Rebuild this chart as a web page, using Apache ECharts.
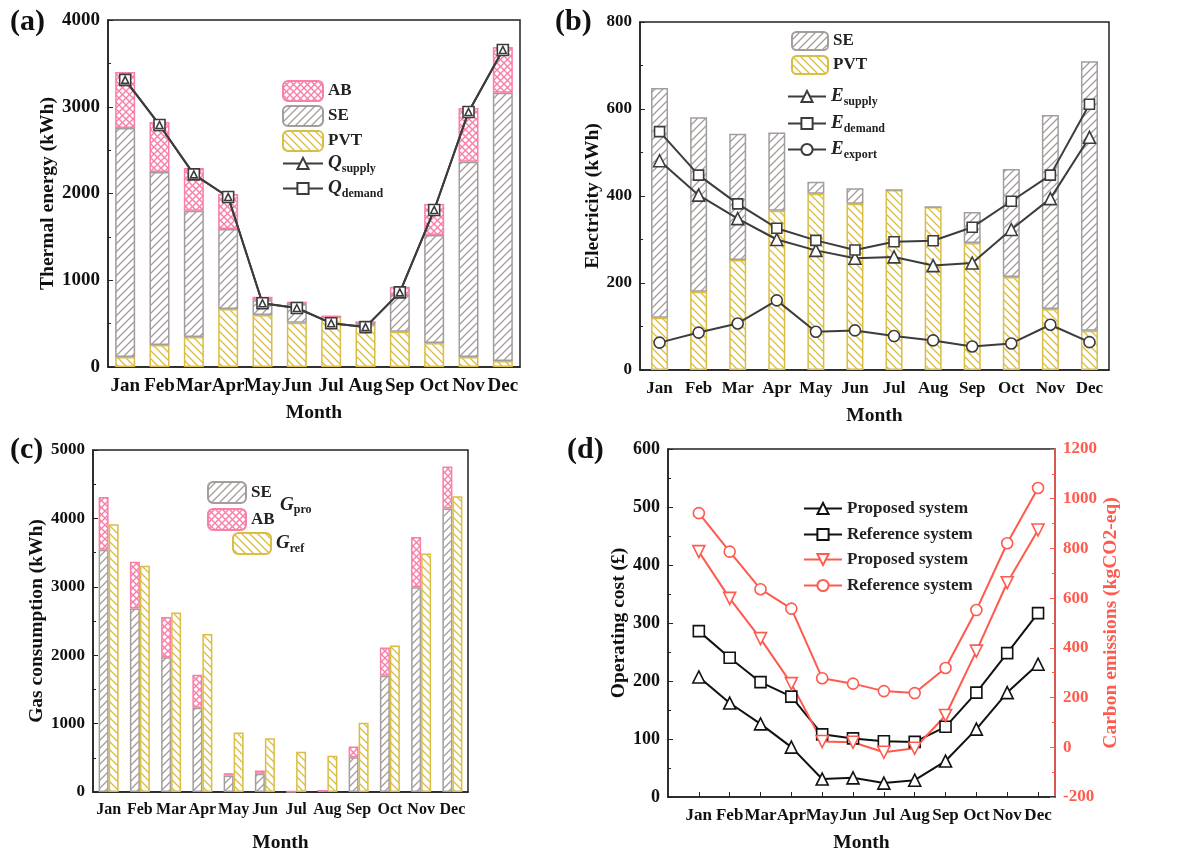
<!DOCTYPE html>
<html><head><meta charset="utf-8">
<script src="https://cdn.jsdelivr.net/npm/echarts@6/dist/echarts.min.js"></script>
<style>html,body{margin:0;padding:0;background:#fff}#c{width:1183px;height:854px}</style>
</head><body><div id="c"></div>
<script>
const months = ['Jan','Feb','Mar','Apr','May','Jun','Jul','Aug','Sep','Oct','Nov','Dec'];
// (a) Thermal energy (kWh), stacked segments
const aPVT = [115,254,346,669,600,510,580,484,407,277,115,69];
const aSE  = [2640,1994,1454,921,170,216,0,36,423,1245,2250,3091];
const aAB  = [645,576,494,404,40,27,12,0,96,357,620,530];
const aQsupply = [3310,2790,2220,1960,735,680,505,460,860,1810,2940,3655];
const aQdemand = [3310,2790,2220,1960,735,680,505,460,860,1810,2940,3655];
// (b) Electricity (kWh)
const bPVT = [120,180,253,366,405,382,414,375,292,214,140,90];
const bSE  = [528,401,290,180,28,36,0,0,71,248,446,620];
const bEsupply = [481,402,348,300,275,257,260,240,246,323,394,535];
const bEdemand = [548,448,382,326,298,276,295,297,328,388,448,611];
const bEexport = [63,86,107,160,88,91,78,68,54,61,104,64];
// (c) Gas consumption (kWh)
const cSE  = [3541,2681,1971,1232,241,266,0,20,507,1700,2995,4145];
const cAB  = [773,686,589,483,34,48,15,0,160,411,734,613];
const cRef = [3913,3309,2623,2309,870,787,589,531,1014,2140,3488,4324];
// (d) Operating cost (£) and carbon emissions (kgCO2-eq)
const dCostPro = [207,162,126,86,31,33,24,29,62,117,180,229];
const dCostRef = [286,240,198,173,108,101,96,95,121,180,248,317];
const dCO2Pro  = [787,599,437,256,23,20,-20,-4,128,387,662,874];
const dCO2Ref  = [942,787,636,558,278,256,226,218,319,552,821,1043];

const FONT = 'Liberation Serif';
const YEL = '#d9bd45', GRY = '#a39d9b', PNK = '#f97ea8', DK = '#3c3c3c', RED = '#ff5a4e';

function pattern(color, type, s, lw) {
  const c = document.createElement('canvas'); c.width = c.height = s;
  const g = c.getContext('2d');
  g.fillStyle = '#fff'; g.fillRect(0,0,s,s);
  g.strokeStyle = color; g.lineWidth = lw;
  const fwd = () => { g.beginPath(); g.moveTo(0,s); g.lineTo(s,0); g.moveTo(-s/2,s/2); g.lineTo(s/2,-s/2); g.moveTo(s/2,1.5*s); g.lineTo(1.5*s,s/2); g.stroke(); };
  const back = () => { g.beginPath(); g.moveTo(0,0); g.lineTo(s,s); g.moveTo(-s/2,s/2); g.lineTo(s/2,1.5*s); g.moveTo(s/2,-s/2); g.lineTo(1.5*s,s/2); g.stroke(); };
  if (type === 'f') fwd(); else if (type === 'b') back(); else { fwd(); back(); }
  return {image: c, repeat: 'repeat'};
}
const pPVT = pattern(YEL, 'b', 8, 1.3);
const pSE = pattern(GRY, 'f', 8, 1.3);
const pAB = pattern(PNK, 'x', 7, 1.4);

const labelMap = {
  aAB:'AB', aSE:'SE', aPVT:'PVT', aQs:'{i|Q}{s|supply}', aQd:'{i|Q}{s|demand}',
  bSE:'SE', bPVT:'PVT', bEs:'{i|E}{s|supply}', bEd:'{i|E}{s|demand}', bEe:'{i|E}{s|export}',
  cSE:'SE', cAB:'AB', cRef:'{i|G}{s|ref}',
  dCP:'Proposed system', dCR:'Reference system', dEP:'Proposed system', dER:'Reference system'
};
const legText = {
  fontFamily: FONT, fontWeight: 'bold', fontSize: 17, color: '#222',
  rich: {
    i: {fontFamily: FONT, fontStyle: 'italic', fontWeight: 'bold', fontSize: 19, color: '#222'},
    s: {fontFamily: FONT, fontWeight: 'bold', fontSize: 12, color: '#222', padding: [10,0,0,0]}
  }
};
function leg(data, left, top, iw, ih, gap) {
  return {data, left, top, orient: 'vertical', itemWidth: iw, itemHeight: ih, itemGap: gap,
    formatter: n => labelMap[n], textStyle: legText, selectedMode: false, padding: 0};
}

const nameTS = {fontFamily: FONT, fontWeight: 'bold', fontSize: 19.5, color: '#111'};
function catX(gi, gap, fs) {
  return {type: 'category', gridIndex: gi, data: months, boundaryGap: true,
    axisLine: {lineStyle: {color: '#222', width: 1.5}},
    axisTick: {inside: true, alignWithLabel: true, length: 5, lineStyle: {color: '#222'}},
    axisLabel: {interval: 0, fontFamily: FONT, fontWeight: 'bold', fontSize: fs, color: '#111', margin: 10},
    name: 'Month', nameLocation: 'middle', nameGap: gap, nameTextStyle: nameTS};
}
function valY(gi, min, max, interval, name, gap, fs, color) {
  color = color || '#222';
  const tc = color === '#222' ? '#111' : color;
  return {type: 'value', gridIndex: gi, min, max, interval,
    axisLine: {show: true, lineStyle: {color, width: 1.5}},
    axisTick: {show: true, inside: true, length: 5, lineStyle: {color}},
    minorTick: {show: true, splitNumber: 2, length: 3, lineStyle: {color}},
    splitLine: {show: false},
    axisLabel: {fontFamily: FONT, fontWeight: 'bold', fontSize: fs, color: tc, margin: 8, formatter: v => String(v)},
    name, nameLocation: 'middle', nameGap: gap, nameRotate: 90,
    nameTextStyle: Object.assign({}, nameTS, {color: tc})};
}
function bar(name, xi, yi, data, pat, color, stack, bw) {
  return {type: 'bar', name, xAxisIndex: xi, yAxisIndex: yi, data, stack, barWidth: bw, barGap: '0%',
    itemStyle: {color: pat, borderColor: color, borderWidth: 1.5}, emphasis: {disabled: true}};
}
function line(name, xi, yi, data, sym, size, color, rot) {
  return {type: 'line', name, xAxisIndex: xi, yAxisIndex: yi, data, symbol: sym, symbolSize: size,
    symbolRotate: rot || 0, showAllSymbol: true, z: 5,
    lineStyle: {color, width: 2}, itemStyle: {color: '#fff', borderColor: color, borderWidth: 1.6},
    emphasis: {disabled: true}};
}
const idx = months.map((m, i) => i + 1);

const titleTS = {fontFamily: FONT, fontWeight: 'bold', fontSize: 30, color: '#111'};
const option = {
  animation: false,
  backgroundColor: '#fff',
  title: [
    {text: '(a)', left: 5, top: 2, textStyle: titleTS},
    {text: '(b)', left: 550, top: 2, textStyle: titleTS},
    {text: '(c)', left: 5, top: 430, textStyle: titleTS},
    {text: '(d)', left: 562, top: 430, textStyle: titleTS},
    {text: '{i|G}{s|pro}', left: 275, top: 489, textStyle: legText}
  ],
  grid: [
    {left: 108, top: 20, width: 412, height: 347, show: true, borderColor: '#222', borderWidth: 1.5},
    {left: 640, top: 22, width: 469, height: 348, show: true, borderColor: '#222', borderWidth: 1.5},
    {left: 93, top: 450, width: 375, height: 345, show: true, borderColor: '#222', borderWidth: 1.5},
    {left: 668, top: 449, width: 387, height: 348, show: true, borderColor: '#222', borderWidth: 1.5}
  ],
  xAxis: [
    catX(0, 36, 19), catX(1, 36, 17), catX(2, 41, 16),
    {type: 'value', gridIndex: 3, min: 0, max: 12.55, interval: 1,
      axisLine: {lineStyle: {color: '#222', width: 1.5}},
      axisTick: {inside: true, length: 5, lineStyle: {color: '#222'}},
      splitLine: {show: false},
      axisLabel: {formatter: v => months[v - 1] || '', showMaxLabel: false, showMinLabel: false,
        fontFamily: FONT, fontWeight: 'bold', fontSize: 17, color: '#111', margin: 10},
      name: 'Month', nameLocation: 'middle', nameGap: 36, nameTextStyle: nameTS}
  ],
  yAxis: [
    valY(0, 0, 4000, 1000, 'Thermal energy (kWh)', 50, 19),
    valY(1, 0, 800, 200, 'Electricity (kWh)', 35, 17),
    valY(2, 0, 5000, 1000, 'Gas consumption (kWh)', 41, 17),
    valY(3, 0, 600, 100, 'Operating cost (£)', 35, 18),
    Object.assign(valY(3, -200, 1200, 200, 'Carbon emissions (kgCO2-eq)', 45, 17, RED), {position: 'right'})
  ],
  legend: [
    leg(['aAB','aSE','aPVT'], 282, 80, 40, 20, 3),
    leg(['aQs'], 282, 154, 40, 14, 0),
    leg(['aQd'], 282, 179, 40, 14, 0),
    leg(['bSE','bPVT'], 791, 31, 36, 18, 4),
    leg(['bEs'], 787, 87, 38, 14, 0),
    leg(['bEd'], 787, 114, 38, 14, 0),
    leg(['bEe'], 787, 140, 38, 14, 0),
    leg(['cSE','cAB'], 207, 481, 38, 21, 4),
    leg(['cRef'], 232, 532, 38, 21, 4),
    leg(['dCP','dCR'], 803, 500, 38, 14, 9),
    leg(['dEP','dER'], 803, 551, 38, 14, 9)
  ],
  series: [
    bar('aPVT', 0, 0, aPVT, pPVT, YEL, 'a', 20),
    bar('aSE', 0, 0, aSE, pSE, GRY, 'a', 20),
    bar('aAB', 0, 0, aAB, pAB, PNK, 'a', 20),
    line('aQd', 0, 0, aQdemand, 'rect', 11, DK),
    line('aQs', 0, 0, aQsupply, 'triangle', 7, DK),
    bar('bPVT', 1, 1, bPVT, pPVT, YEL, 'b', 17),
    bar('bSE', 1, 1, bSE, pSE, GRY, 'b', 17),
    line('bEs', 1, 1, bEsupply, 'triangle', 12, DK),
    line('bEd', 1, 1, bEdemand, 'rect', 10, DK),
    line('bEe', 1, 1, bEexport, 'circle', 11, DK),
    bar('cSE', 2, 2, cSE, pSE, GRY, 'c', 10),
    bar('cAB', 2, 2, cAB, pAB, PNK, 'c', 10),
    bar('cRef', 2, 2, cRef, pPVT, YEL, null, 10),
    line('dCP', 3, 3, idx.map((x, i) => [x, dCostPro[i]]), 'triangle', 12, '#111'),
    line('dCR', 3, 3, idx.map((x, i) => [x, dCostRef[i]]), 'rect', 11, '#111'),
    line('dEP', 3, 4, idx.map((x, i) => [x, dCO2Pro[i]]), 'triangle', 12, RED, 180),
    line('dER', 3, 4, idx.map((x, i) => [x, dCO2Ref[i]]), 'circle', 11, RED)
  ]
};
const chart = echarts.init(document.getElementById('c'), null, {renderer: 'canvas'});
chart.setOption(option);
</script></body></html>
